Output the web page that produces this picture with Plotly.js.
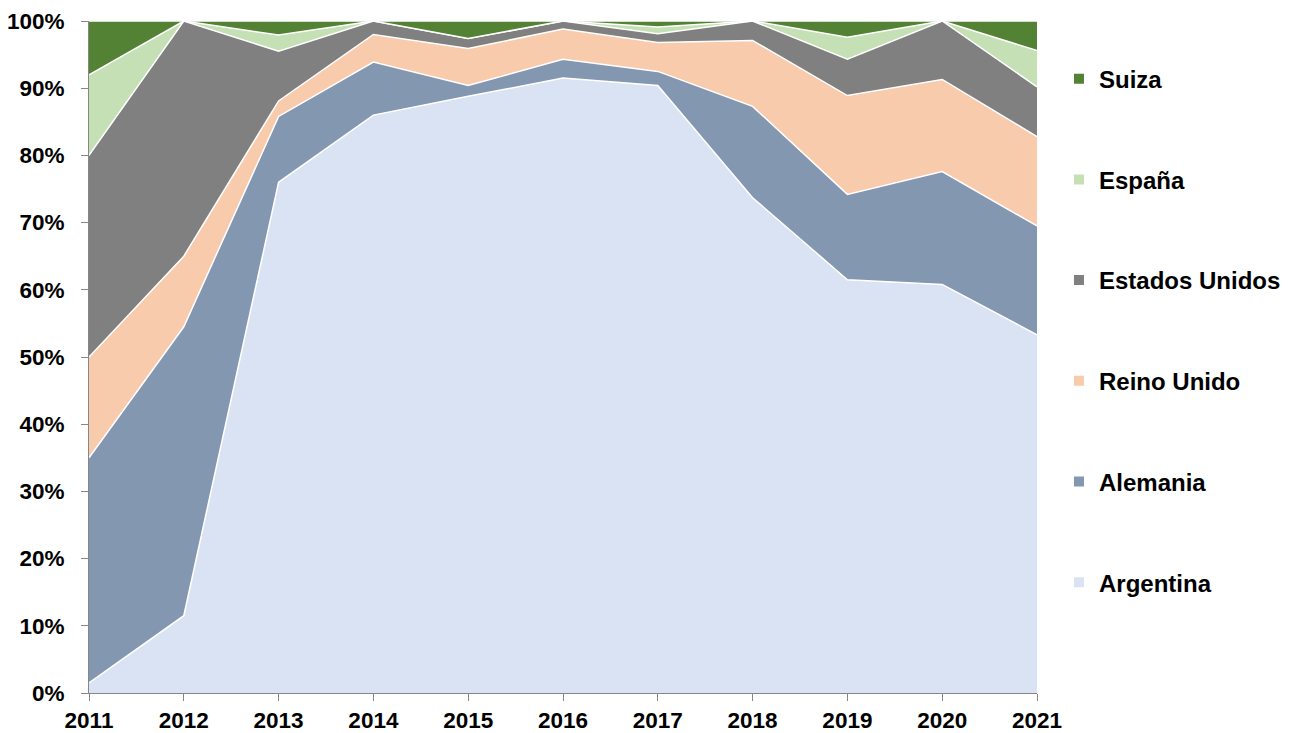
<!DOCTYPE html>
<html>
<head>
<meta charset="utf-8">
<script src="https://cdn.plot.ly/plotly-3.0.1.min.js"></script>
<style>html,body{margin:0;padding:0;background:#fff;}#chart{width:1293px;height:733px;}</style>
</head>
<body>
<div id="chart"></div>
<script>
const years = [2011, 2012, 2013, 2014, 2015, 2016, 2017, 2018, 2019, 2020, 2021];
const argentina     = [1.5, 11.5, 76.0, 86.0, 88.8, 91.5, 90.4, 73.7, 61.5, 60.8, 53.3];
const alemania      = [33.5, 43.0, 9.8, 7.9, 1.6, 2.8, 2.1, 13.6, 12.7, 16.8, 16.2];
const reinoUnido    = [15.0, 10.5, 2.3, 4.1, 5.5, 4.5, 4.3, 9.8, 14.7, 13.7, 13.3];
const estadosUnidos = [30.0, 35.0, 7.4, 2.0, 1.5, 1.2, 1.3, 2.9, 5.4, 8.7, 7.4];
const espana        = [12.0, 0.0, 2.4, 0.0, 0.0, 0.0, 1.0, 0.0, 3.3, 0.0, 5.4];
const suiza         = [8.0, 0.0, 2.1, 0.0, 2.6, 0.0, 0.9, 0.0, 2.4, 0.0, 4.4];

const seriesNames  = ['Argentina', 'Alemania', 'Reino Unido', 'Estados Unidos', 'España', 'Suiza'];
const seriesValues = [argentina, alemania, reinoUnido, estadosUnidos, espana, suiza];
const seriesColors = ['#DAE3F3', '#8497B0', '#F8CBAD', '#808080', '#C5E0B4', '#548235'];

const traces = [];
seriesNames.forEach((name, i) => {
  traces.push({
    x: years, y: seriesValues[i], name: name, type: 'scatter', mode: 'lines',
    stackgroup: 'one', fillcolor: seriesColors[i],
    line: {color: '#ffffff', width: 1.5},
    showlegend: false, hoverinfo: 'x+y+name'
  });
});
// legend entries (square swatches), top to bottom: Suiza ... Argentina
for (let i = seriesNames.length - 1; i >= 0; i--) {
  traces.push({
    x: [null], y: [null], name: seriesNames[i], type: 'scatter', mode: 'markers',
    marker: {symbol: 'square', size: 10, color: seriesColors[i]},
    legendgroup: 'g' + i, showlegend: true
  });
}

const tickFont = {family: 'Liberation Sans, Arial, sans-serif', size: 22.5, color: '#000', weight: 'bold'};

const layout = {
  width: 1293, height: 733,
  paper_bgcolor: '#fff', plot_bgcolor: '#fff',
  margin: {l: 89, r: 256, t: 21, b: 39.5},
  showlegend: true,
  legend: {
    x: 0.819, xanchor: 'left', xref: 'container', y: 0.9228, yanchor: 'top', yref: 'container',
    maxheight: 700,
    traceorder: 'grouped', tracegroupgap: 66.5,
    font: {family: 'Liberation Sans, Arial, sans-serif', size: 24, color: '#000', weight: 'bold'},
    itemwidth: 30, bgcolor: 'rgba(0,0,0,0)'
  },
  xaxis: {
    range: [2011, 2021], dtick: 1, tick0: 2011, tickformat: 'd',
    showgrid: false, zeroline: false, showline: true, linecolor: '#868686', linewidth: 1,
    ticks: 'outside', ticklen: 7, tickcolor: '#868686',
    tickfont: tickFont
  },
  yaxis: {
    range: [0, 100], dtick: 10, ticksuffix: '%',
    showgrid: false, zeroline: false, showline: true, linecolor: '#868686', linewidth: 1,
    ticks: 'outside', ticklen: 7, tickcolor: '#868686', ticklabelstandoff: 12,
    tickfont: tickFont
  }
};

Plotly.newPlot('chart', traces, layout, {displayModeBar: false, staticPlot: true});
</script>
</body>
</html>
